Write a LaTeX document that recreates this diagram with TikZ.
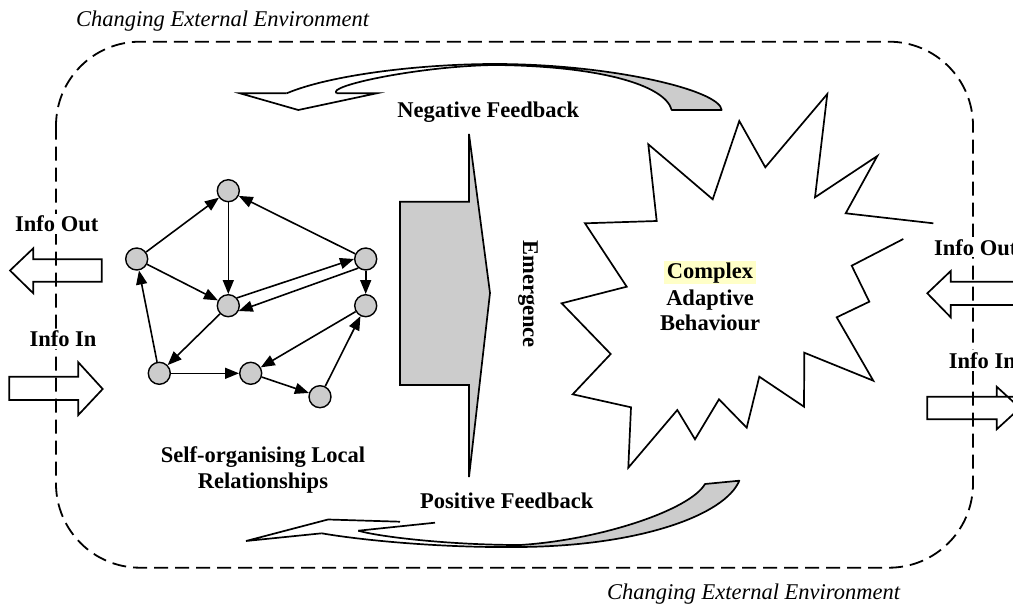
\documentclass[tikz,border=0pt]{standalone}
\usepackage{fontspec}
\setmainfont{Liberation Serif}
\usetikzlibrary{arrows.meta}
\definecolor{shade}{HTML}{CCCCCC}
\definecolor{hl}{HTML}{FFFFC8}
\begin{document}
\begin{tikzpicture}[x=1pt,y=-1pt,
  lab/.style={font=\fontsize{22.5}{26}\selectfont\bfseries, inner sep=0pt},
  envtext/.style={font=\fontsize{22.5}{26}\selectfont\itshape, inner sep=0pt},
  info/.style={font=\fontsize{22.5}{26}\selectfont\bfseries, fill=white, inner sep=2pt},
  vert/.style={circle, draw, fill=shade, minimum size=22pt, inner sep=0pt, line width=1.4pt},
  edge/.style={line width=1.6pt, -{Triangle[length=14pt,width=11pt]}},
  outline/.style={line width=1.7pt},
  envline/.style={line width=1.8pt, dash pattern=on 14pt off 7pt}]
\useasboundingbox (0,0) rectangle (1013,605);
\clip (0,0) rectangle (1013,605);
\fill[white] (0,0) rectangle (1013,605);

% environment boundary
\draw[envline, rounded corners=84pt] (56,41.7) rectangle (973,567.7);
\node[envtext, anchor=base west] (envtop) at (76,26.5) {Changing External Environment};
\node[envtext, anchor=base west] (envbot) at (607,599.5) {Changing External Environment};

% info labels and arrows (left)
\node[info, anchor=base] (loutl) at (56.7,231.7) {Info Out};
\node[info, anchor=base] (linl) at (63,346.7) {Info In};
\draw[outline] (10,270.5) -- (33.3,248.3) -- (33.3,259.3) -- (101.7,259.3) -- (101.7,281.7) -- (33.3,281.7) -- (33.3,293.3) -- cycle;
\draw[outline] (9.3,376.7) -- (78.3,376.7) -- (78.3,362.3) -- (102.7,389) -- (78.3,415) -- (78.3,400) -- (9.3,400) -- cycle;

% info labels and arrows (right)
\node[info, anchor=base west] (routl) at (932,255) {Info Out};
\node[info, anchor=base west] (rinl) at (946.7,368.3) {Info In};
\draw[outline] (1030,281.7) -- (950.7,281.7) -- (950.7,271) -- (927.3,293.3) -- (950.7,317.3) -- (950.7,305) -- (1030,305);
\draw[outline] (1030,396.7) -- (927.3,396.7) -- (927.3,419.3) -- (996.7,419.3) -- (996.7,429.3) -- (1020,408) -- (996.7,386.7) -- (996.7,396.7);

% network of local relationships
\node[vert] (A) at (228.3,190.7) {};
\node[vert] (B) at (136.7,259) {};
\node[vert] (C) at (228.3,305.7) {};
\node[vert] (D) at (365.7,259) {};
\node[vert] (E) at (365.7,305.7) {};
\node[vert] (F) at (159.3,373.3) {};
\node[vert] (G) at (250.7,373.3) {};
\node[vert] (H) at (320,396.7) {};
\draw[edge] (B) -- (A);
\draw[edge] (A) -- (C);
\draw[edge] (B) -- (C);
\draw[edge] (D) -- (A);
\draw[edge] (C.42) -- (D.180);
\draw[edge] (D.231) -- (C.-27);
\draw[edge] (D) -- (E);
\draw[edge] (C) -- (F);
\draw[edge] (F) -- (B);
\draw[edge] (F) -- (G);
\draw[edge] (E) -- (G);
\draw[edge] (G) -- (H);
\draw[edge] (H) -- (E);
\node[lab, align=center, anchor=base] (self) at (263,488.5) {Self-organising Local\\Relationships};

% emergence
\draw[outline, fill=shade] (469,134) -- (490,293) -- (469,477) -- (469,385) -- (400,385) -- (400,201.7) -- (469,201.7) -- cycle;
\node[lab, rotate=-90] (emer) at (528,294) {Emergence};

% complex adaptive behaviour
\draw[outline] (903.3,239) -- (851.7,265.7) -- (869.3,301.7) -- (836.7,317.3) -- (873.3,380.7) -- (804.3,352.7) -- (804,406.7) -- (759.3,376.7) -- (746.7,427.7) -- (719,399.3) -- (695,439.3) -- (677.3,410) -- (628.3,467.7) -- (631,407.3) -- (572.7,394.3) -- (610.7,354) -- (561.7,303.3) -- (626.7,286.7) -- (585,223.3) -- (656.7,221) -- (648.3,144.3) -- (712.7,199.3) -- (739.3,121) -- (765.3,167.3) -- (827.3,94) -- (815,197.3) -- (877.3,156) -- (845.7,213.3) -- (933.3,223.3);
\node[lab, fill=hl, inner xsep=3pt, minimum height=23pt, anchor=base] (cx) at (710,278.3) {Complex};
\node[lab, anchor=base] (ad) at (710,305) {Adaptive};
\node[lab, anchor=base] (bh) at (710,330.5) {Behaviour};

% negative feedback
\draw[outline, line join=round] (336.7,93.3) .. controls (325,86) and (420,66) .. (495,65);
\draw[outline, line join=round] (286.7,93.3) .. controls (330,75) and (420,64) .. (495,64);
\draw[outline, fill=shade, line join=round] (495,64) .. controls (610,64) and (720,90) .. (721.7,110) -- (671.7,110) .. controls (665,85) and (600,66) .. (495,65) -- cycle;
\draw[outline] (286.7,93.3) -- (240,93.3) -- (298.3,110) -- (376.7,93.3) -- (336.7,93.3);
\node[lab, anchor=base] (neg) at (488.3,117.5) {Negative Feedback};

% positive feedback
\draw[outline] (321.7,533.3) .. controls (360,540) and (440,548) .. (520,547);
\draw[outline] (358.3,530.7) .. controls (380,537) and (450,545) .. (520,545);
\draw[outline, fill=shade, line join=round] (520,547) .. controls (640,546) and (725,515) .. (739.3,480.7) -- (705,484) .. controls (690,510) and (600,540) .. (520,545) -- cycle;
\draw[outline] (400,521.7) -- (328,519.5) -- (246,541) -- (321.7,533.3);
\draw[outline] (358.3,530.7) -- (435,522.7);
\node[lab, anchor=base] (pos) at (506.7,508.3) {Positive Feedback};
\end{tikzpicture}
\end{document}
